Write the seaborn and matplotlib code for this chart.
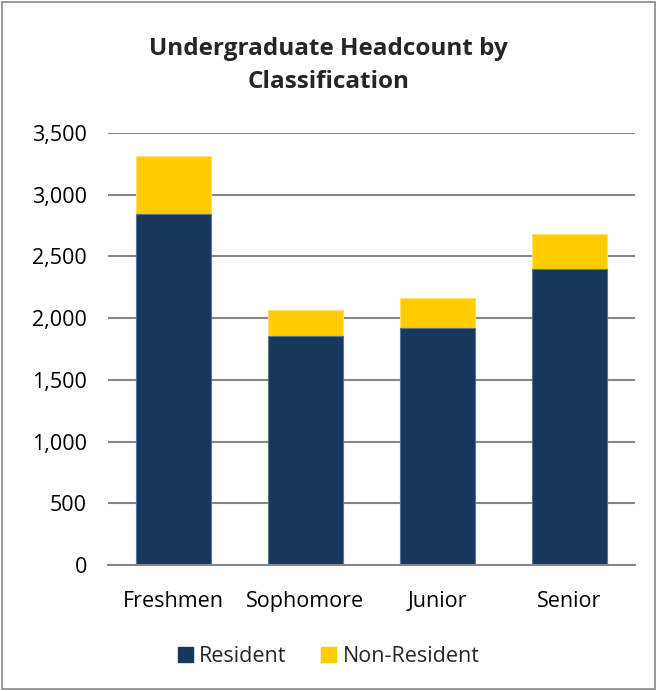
import seaborn as sns
import matplotlib.pyplot as plt
import pandas as pd
from matplotlib.patches import Patch, Rectangle
from matplotlib.ticker import FuncFormatter

# data
classes = ["Freshmen", "Sophomore", "Junior", "Senior"]
resident = [2842, 1858, 1923, 2396]
non_resident = [472, 208, 238, 286]

navy = "#17375E"
gold = "#FFCC00"

df = pd.DataFrame({"cls": classes, "res": resident, "nonres": non_resident})
df["total"] = df["res"] + df["nonres"]

sns.set_style("white")
plt.rcParams['font.family'] = ['Open Sans', 'DejaVu Sans']

fig = plt.figure(figsize=(6.57, 6.91), dpi=100)
ax = fig.add_axes([0.164, 0.1823, 0.8025, 0.6252])

# stacked bars: total in gold, resident in navy over it
sns.barplot(data=df, x="cls", y="total", color=gold, width=0.57, saturation=1, ax=ax,
            edgecolor="#FFE066", linewidth=0.8)
sns.barplot(data=df, x="cls", y="res", color=navy, width=0.57, saturation=1, ax=ax,
            edgecolor="#5A7390", linewidth=0.8)

ax.set_ylim(0, 3500)
ax.set_xlim(-0.5, 3.5)
ax.set_yticks(range(0, 3501, 500))
ax.yaxis.set_major_formatter(FuncFormatter(lambda v, p: f"{int(v):,}"))
ax.grid(axis="y", color="#868686", linewidth=1.5)
ax.set_axisbelow(True)
for s in ["left", "right", "top"]:
    ax.spines[s].set_visible(False)
ax.spines["bottom"].set_color("#868686")
ax.spines["bottom"].set_linewidth(1.5)
ax.tick_params(axis="both", length=0, labelsize=15.5, colors="black")
ax.tick_params(axis="y", pad=15)
ax.tick_params(axis="x", pad=19)
ax.set_xlabel("")
ax.set_ylabel("")

fig.text(0.5, 0.905, "Undergraduate Headcount by\nClassification", ha="center", va="center",
         fontsize=17.5, fontweight="bold", linespacing=1.5)

handles = [Patch(color=navy, label="Resident"), Patch(color=gold, label="Non-Resident")]
fig.legend(handles=handles, loc="center", bbox_to_anchor=(0.5, 0.05), ncol=2, frameon=False,
           fontsize=15.5, handlelength=0.7, handleheight=0.7, handletextpad=0.3, columnspacing=1.6)

# outer chart border
fig.patches.append(Rectangle((0.003, 0.003), 0.994, 0.994, transform=fig.transFigure,
                             fill=False, edgecolor="#868686", linewidth=1.2))

fig.savefig("out.png", dpi=100)
